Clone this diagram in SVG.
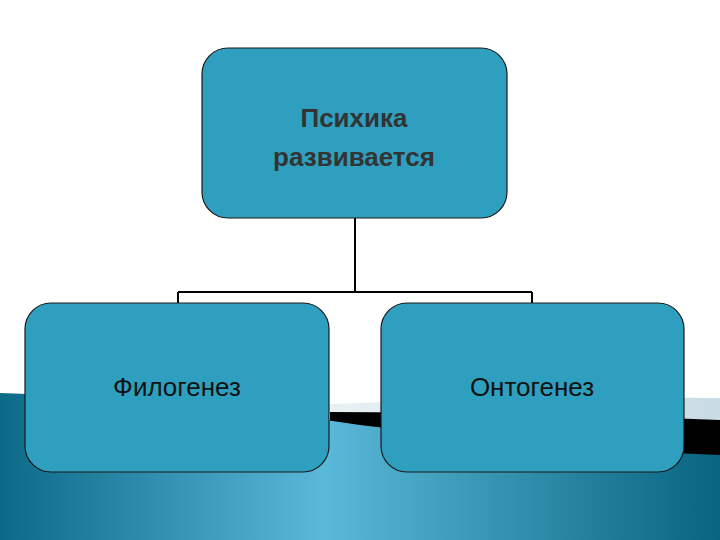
<svg xmlns="http://www.w3.org/2000/svg" width="720" height="540" viewBox="0 0 720 540">
<defs>
<linearGradient id="sea" x1="0" y1="0" x2="1" y2="0">
<stop offset="0" stop-color="#0b6a88"/>
<stop offset="0.45" stop-color="#5ab8d8"/>
<stop offset="1" stop-color="#086480"/>
</linearGradient>
<linearGradient id="band" x1="0" y1="0" x2="1" y2="0">
<stop offset="0" stop-color="#e8f0f4"/>
<stop offset="1" stop-color="#c9dbe4"/>
</linearGradient>
<style>
.box{fill:#2f9fbf;stroke:#1a1a1a;stroke-width:1.2}
.t{font-family:"Liberation Sans",Arial,sans-serif;font-size:26px;fill:#111;text-anchor:middle}
.b{font-weight:bold;fill:#333}
.c{stroke:#000;stroke-width:2;fill:none}
</style>
</defs>
<rect width="720" height="540" fill="#fff"/>
<path d="M330,404 Q520,396 720,398 L720,540 L330,540Z" fill="url(#band)"/>
<path d="M330,412 Q520,412 720,420 L720,540 L330,540Z" fill="#000"/>
<path d="M0,393 Q200,400 360,425 Q540,448 720,455 L720,540 L0,540Z" fill="url(#sea)"/>
<g id="connectors">
<path class="c" d="M355,218 V292 M178,292 H532 M178,292 V303 M532,292 V303"/>
</g>
<g id="n-top">
<rect class="box" x="202" y="48" width="305" height="170" rx="26"/>
<text class="t b" x="354" y="127">Психика</text>
<text class="t b" x="354" y="166">развивается</text>
</g>
<g id="n-phylo">
<rect class="box" x="25" y="303" width="304" height="169" rx="26"/>
<text class="t" x="177" y="396">Филогенез</text>
</g>
<g id="n-onto">
<rect class="box" x="381" y="303" width="303" height="169" rx="26"/>
<text class="t" x="532" y="396">Онтогенез</text>
</g>
</svg>
